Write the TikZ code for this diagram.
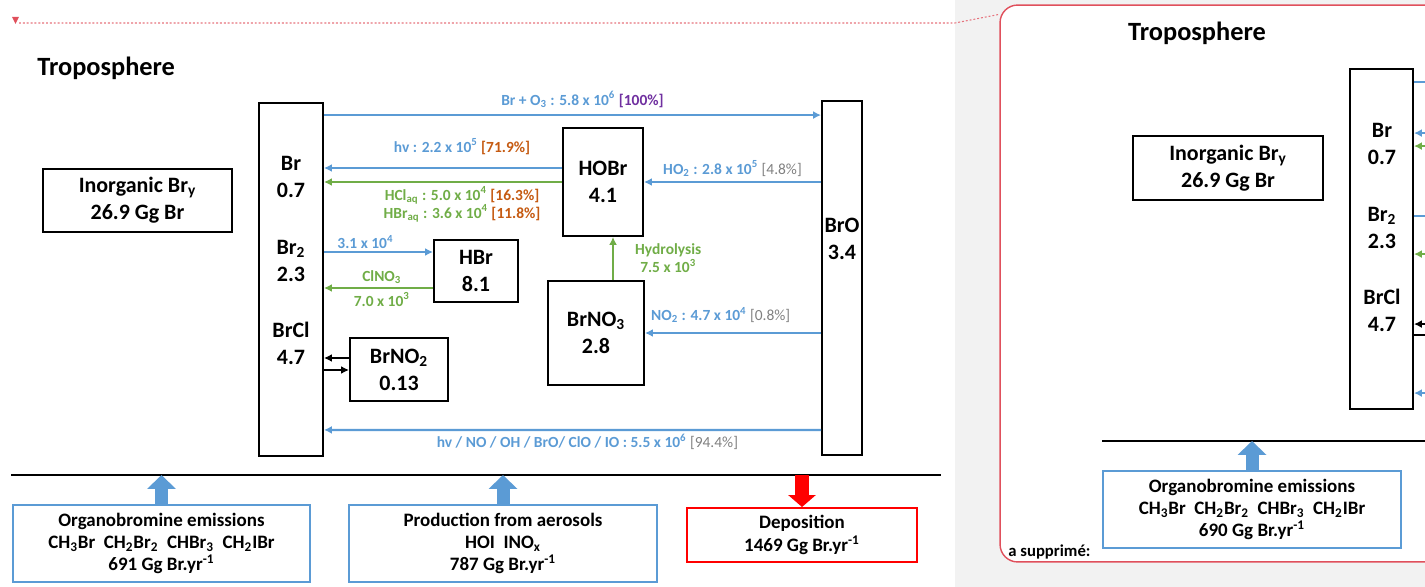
\documentclass[tikz,border=0pt]{standalone}
\usepackage{fontspec}
\setmainfont{Carlito}
\usetikzlibrary{arrows.meta,calc}
\definecolor{azulflujo}{HTML}{5B9BD5}
\definecolor{verdeflujo}{HTML}{70AD47}
\definecolor{naranja}{HTML}{C55A11}
\definecolor{morado}{HTML}{7030A0}
\definecolor{grisdato}{HTML}{808080}
\definecolor{rojonota}{HTML}{E0505C}
\definecolor{fondogris}{HTML}{F2F2F2}
\begin{document}
\begin{tikzpicture}[x=0.02cm,y=-0.02cm,
    nombre/.style={align=center,inner sep=0pt,font=\bfseries\fontsize{12.5}{15.4}\selectfont},
    especie/.style={nombre,draw,line width=1.1pt},
    fuente/.style={draw=azulflujo,line width=1.1pt,align=center,inner sep=0pt,font=\bfseries\fontsize{10.8}{12.6}\selectfont},
    flujo/.style={-{Latex[length=4.5pt,width=4.5pt]},line width=1.3pt},
    flujoinv/.style={{Latex[length=4.5pt,width=4.5pt]}-,line width=1.3pt},
    dato/.style={font=\bfseries\fontsize{8.8}{10.2}\selectfont,align=center,inner sep=1pt},
    bloque/.style={line width=7.4pt,-{Triangle[length=7.9pt,width=15.9pt]}}]
  \clip (0,0) rectangle (1425,587);
  % panneau de commentaire
  \fill[fondogris] (955,0) rectangle (1425,587);
  \node[draw=rojonota,fill=white,line width=0.8pt,rounded corners=10pt,minimum width=9cm,minimum height=11.14cm] (globo) at (1225,283.5) {};
  \fill[rojonota] (12,17) -- (19,17) -- (15.5,24) -- cycle;
  \coordinate (marca) at (19,23);
  \coordinate (pliegue) at (955,23);
  \draw[rojonota!80,line width=0.6pt,dash pattern=on 1.1pt off 1.1pt] (marca) -- (pliegue) -- ($(globo.north west)+(0,10)$);

  % troposphere
  \node[anchor=west,inner sep=0pt,font=\bfseries\fontsize{15}{18}\selectfont] (titre) at (37,68) {Troposphere};
  \node[especie,minimum width=3.78cm,minimum height=1.26cm] (inorg) at (137.5,200.5) {Inorganic Br\textsubscript{y}\\26.9 Gg Br};
  \node[especie,minimum width=1.28cm,minimum height=7.06cm] (brcol) at (291,279.5) {};
  \node[nombre] (br) at (291,176.5) {Br\\0.7};
  \node[nombre] (br2) at (291,261) {Br\textsubscript{2}\\2.3};
  \node[nombre] (brcl) at (291,343.5) {BrCl\\4.7};
  \node[especie,minimum width=0.8cm,minimum height=7.08cm] (broc) at (842,278) {};
  \node[nombre] (bro) at (842,238.5) {BrO\\3.4};
  \node[especie,minimum width=1.6cm,minimum height=2.16cm] (hobr) at (603,182) {HOBr\\4.1};
  \node[especie,minimum width=1.68cm,minimum height=1.24cm] (hbr) at (476,271) {HBr\\8.1};
  \node[especie,minimum width=1.92cm,minimum height=2.08cm] (brno3) at (596,333) {BrNO\textsubscript{3}\\2.8};
  \node[especie,minimum width=1.96cm,minimum height=1.26cm] (brno2) at (399,369.5) {BrNO\textsubscript{2}\\0.13};

  \draw[flujo,azulflujo] ($(brcol.north east)+(0,13)$) -- ($(broc.north west)+(0,15)$)
    node[dato,pos=0.52,above=2.5pt] {Br + O\textsubscript{3} : 5.8 x 10\textsuperscript{6} \textcolor{morado}{[100\%]}};
  \draw[flujo,azulflujo] ($(hobr.west)+(0,-14)$) -- ($(brcol.east |- hobr.west)+(0,-14)$)
    node[dato,pos=0.42,above=6pt] {hv : 2.2 x 10\textsuperscript{5} \textcolor{naranja}{[71.9\%]}};
  \draw[flujo,verdeflujo] (hobr.west) -- (brcol.east |- hobr.west)
    node[dato,pos=0.42,below=1pt] {HCl\textsubscript{aq} : 5.0 x 10\textsuperscript{4} \textcolor{naranja}{[16.3\%]}\\HBr\textsubscript{aq} : 3.6 x 10\textsuperscript{4} \textcolor{naranja}{[11.8\%]}};
  \draw[flujo,azulflujo] (broc.west |- hobr.east) -- (hobr.east)
    node[dato,midway,above=1.5pt] {HO\textsubscript{2} : 2.8 x 10\textsuperscript{5} \textcolor{grisdato}{\mdseries[4.8\%]}};
  \draw[flujo,azulflujo] ($(brcol.east |- hbr.west)+(0,-19)$) -- ($(hbr.west)+(0,-19)$)
    node[dato,pos=0.38,above=0pt] {3.1 x 10\textsuperscript{4}};
  \draw[flujo,verdeflujo] ($(hbr.west)+(0,17)$) -- ($(brcol.east |- hbr.west)+(0,17)$)
    node[dato,pos=0.47,above=1pt] {ClNO\textsubscript{3}}
    node[dato,pos=0.47,below=1pt] {7.0 x 10\textsuperscript{3}};
  \draw[flujo,verdeflujo] ($(brno3.north)+(17,0)$) coordinate (hidro) -- (hidro |- hobr.south)
    node[dato,midway,right=11pt] {Hydrolysis\\7.5 x 10\textsuperscript{3}};
  \draw[flujo,azulflujo] (broc.west |- brno3.east) -- (brno3.east)
    node[dato,pos=0.57,above=4pt] {NO\textsubscript{2} : 4.7 x 10\textsuperscript{4} \textcolor{grisdato}{\mdseries[0.8\%]}};
  \draw[flujo] ($(brno2.west)+(0,-11.5)$) -- ($(brcol.east |- brno2.west)+(0,-11.5)$);
  \draw[flujo] ($(brcol.east |- brno2.west)+(0,0.5)$) -- ($(brno2.west)+(0,0.5)$);
  \draw[flujo,azulflujo] ($(broc.south west)+(0,-26)$) -- ($(brcol.south east)+(0,-27)$)
    node[dato,pos=0.47,below=0.5pt] {hv / NO / OH / BrO/ ClO / IO : 5.5 x 10\textsuperscript{6} \textcolor{grisdato}{\mdseries[94.4\%]}};

  % sources et puits
  \coordinate (sueloizq) at (11,475);
  \coordinate (suelodcha) at (941,475);
  \draw[line width=1.3pt] (sueloizq) -- (suelodcha);
  \node[fuente,minimum width=5.94cm,minimum height=1.54cm] (organo) at (161.5,543.5) {Organobromine emissions\\CH\textsubscript{3}Br~~CH\textsubscript{2}Br\textsubscript{2}~~CHBr\textsubscript{3}~~CH\textsubscript{2}IBr\\691 Gg Br.yr\textsuperscript{-1}};
  \node[fuente,minimum width=6.16cm,minimum height=1.54cm] (aeros) at (503,543.5) {Production from aerosols\\HOI~~INO\textsubscript{x}\\787 Gg Br.yr\textsuperscript{-1}};
  \node[fuente,draw=red,minimum width=4.6cm,minimum height=1.08cm] (deposito) at (802,535) {Deposition\\1469 Gg Br.yr\textsuperscript{-1}};
  \draw[bloque,azulflujo] (organo.north) -- (organo.north |- sueloizq);
  \draw[bloque,azulflujo] (aeros.north) -- (aeros.north |- sueloizq);
  \draw[line width=8.5pt,-{Triangle[length=6.8pt,width=15.3pt]},red] (deposito.north |- sueloizq) -- (deposito.north);

  % ancienne version
  \coordinate (bordeb) at (1440,0);
  \node[inner sep=0pt,font=\bfseries\fontsize{15}{18}\selectfont] (titreb) at (1197,33) {Troposphere};
  \node[especie,minimum width=3.8cm,minimum height=1.28cm] (inorgb) at (1228,168) {Inorganic Br\textsubscript{y}\\26.9 Gg Br};
  \node[especie,minimum width=1.26cm,minimum height=6.8cm] (brcolb) at (1381.5,239) {};
  \node[nombre] (brb) at (1382,143.5) {Br\\0.7};
  \node[nombre] (br2b) at (1382,228) {Br\textsubscript{2}\\2.3};
  \node[nombre] (brclb) at (1382,310.5) {BrCl\\4.7};
  \draw[line width=1.3pt,azulflujo] ($(brcolb.north east)+(0,14)$) coordinate (q1) -- (q1 -| bordeb);
  \draw[flujoinv,azulflujo] ($(brcolb.north east)+(0,65)$) coordinate (q2) -- (q2 -| bordeb);
  \draw[flujoinv,verdeflujo] ($(brcolb.north east)+(0,78)$) coordinate (q3) -- (q3 -| bordeb);
  \draw[line width=1.3pt,azulflujo] ($(brcolb.north east)+(0,148)$) coordinate (q4) -- (q4 -| bordeb);
  \draw[flujoinv,verdeflujo] ($(brcolb.north east)+(0,186)$) coordinate (q5) -- (q5 -| bordeb);
  \draw[flujoinv] ($(brcolb.north east)+(0,256)$) coordinate (q6) -- (q6 -| bordeb);
  \draw[line width=1.3pt] ($(brcolb.north east)+(0,267)$) coordinate (q7) -- (q7 -| bordeb);
  \draw[flujoinv,azulflujo] ($(brcolb.north east)+(0,325)$) coordinate (q8) -- (q8 -| bordeb);
  \coordinate (sueloizqb) at (1102,441);
  \draw[line width=1.3pt] (sueloizqb) -- (sueloizqb -| bordeb);
  \node[fuente,minimum width=5.96cm,minimum height=1.54cm] (organob) at (1252,509.5) {Organobromine emissions\\CH\textsubscript{3}Br~~CH\textsubscript{2}Br\textsubscript{2}~~CHBr\textsubscript{3}~~CH\textsubscript{2}IBr\\690 Gg Br.yr\textsuperscript{-1}};
  \draw[bloque,azulflujo] (organob.north) -- (organob.north |- sueloizqb);
  \node[anchor=west,inner sep=0pt,font=\bfseries\fontsize{9.5}{11}\selectfont] (suppr) at (1008,552) {a supprimé:};
\end{tikzpicture}
\end{document}
